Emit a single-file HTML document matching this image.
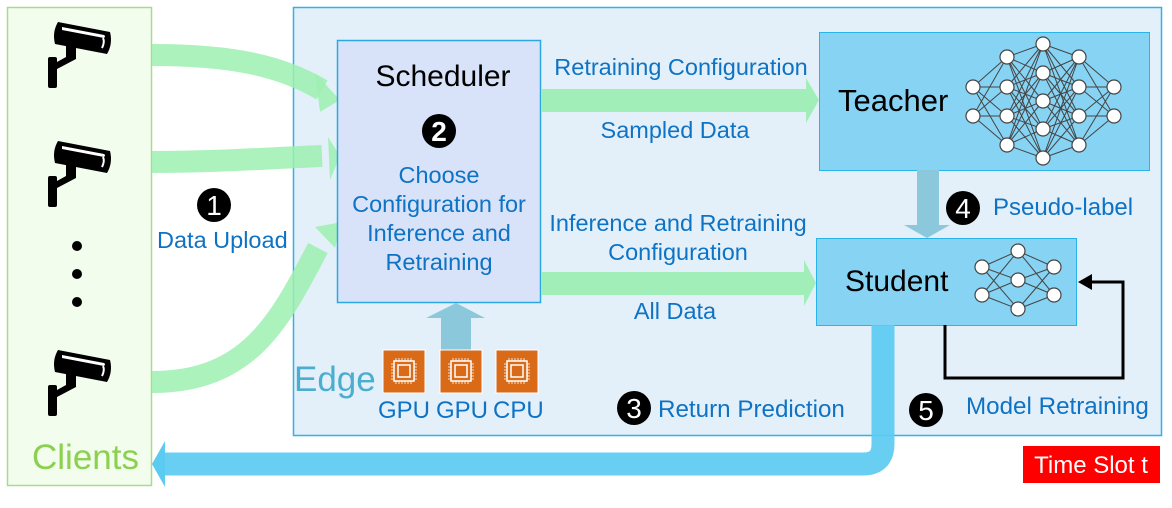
<!DOCTYPE html>
<html><head><meta charset="utf-8"><style>
body{margin:0;width:1172px;height:508px;background:#fff;overflow:hidden}
svg{display:block}
text{font-family:"Liberation Sans",Arial,sans-serif}
</style></head><body>
<svg width="1172" height="508" viewBox="0 0 1172 508" xmlns="http://www.w3.org/2000/svg">
<defs>
<g id="cam">
<path d="M58,0 L110,10 Q113,22 107,32 L55,22 Q52,10 58,0 Z" fill="#000"/>
<path d="M62,5 L104,13 Q106,14 104,16 L62,8 Z" fill="#fff"/>
<path d="M103,16 Q105,20 102,26" stroke="#fff" stroke-width="2" fill="none"/>
<path d="M66,22 L76,24 L76,37 L57,47 L57,40 L66,35 Z" fill="#000"/>
<rect x="48" y="35" width="9" height="31" rx="2" fill="#000"/>
</g>
<g id="chip">
<rect x="0" y="0" width="42" height="43" fill="#d86a18" stroke="#fff" stroke-width="1"/>
<rect x="11" y="11" width="20" height="20" fill="none" stroke="#fff" stroke-width="1.5"/>
<rect x="15" y="15" width="12" height="12" fill="none" stroke="#fff" stroke-width="1.5"/>
<path d="M13,11v-3M16,11v-3M19,11v-3M22,11v-3M25,11v-3M28,11v-3M13,31v3M16,31v3M19,31v3M22,31v3M25,31v3M28,31v3M11,14h-3M11,17h-3M11,20h-3M11,23h-3M11,26h-3M11,29h-3M31,14h3M31,17h3M31,20h3M31,23h3M31,26h3M31,29h3" stroke="#fff" stroke-width="0.8"/>
</g>
</defs>
<rect x="7.5" y="7.5" width="144" height="478" fill="#f2fdee" stroke="#a8dd88" stroke-width="1.5"/>
<rect x="293.5" y="7.5" width="868" height="428" fill="#e4f0f9" stroke="#2ab4ec" stroke-width="1.5"/>
<g fill="none" stroke="#9ef0b0" stroke-opacity="0.85" stroke-width="22">
<path d="M152,55 C230,55 280,65 322,90"/>
<path d="M152,162 C220,162 270,158 322,156"/>
<path d="M152,382 C250,382 280,320 318,248"/>
</g>
<g fill="#9ef0b0" fill-opacity="0.85">
<polygon points="315,73 340,100 320,112"/>
<polygon points="328,137 340,156 330,180"/>
<polygon points="315,227 342,222 335,248"/>
</g>
<rect x="337.5" y="40.5" width="203" height="262" fill="#d8e2f8" stroke="#2aa8e4" stroke-width="1.5"/>
<text x="443" y="86" font-size="30" text-anchor="middle" fill="#000">Scheduler</text>
<circle cx="439" cy="131" r="17" fill="#000"/>
<text x="439" y="141" font-size="28" font-weight="bold" text-anchor="middle" fill="#fff">2</text>
<g font-size="23.5" fill="#0e73c4" text-anchor="middle">
<text x="439" y="183">Choose</text>
<text x="439" y="212">Configuration for</text>
<text x="439" y="241">Inference and</text>
<text x="439" y="270">Retraining</text>
</g>
<rect x="541" y="89" width="266" height="23" fill="#a2eeb8"/>
<polygon points="806,78 819,100 806,123" fill="#a2eeb8"/>
<rect x="541" y="272" width="263" height="23" fill="#a2eeb8"/>
<polygon points="804,260 816,283 804,306" fill="#a2eeb8"/>
<g font-size="23.5" fill="#0e73c4" text-anchor="middle">
<text x="681" y="75">Retraining Configuration</text>
<text x="675" y="138">Sampled Data</text>
<text x="678" y="231">Inference and Retraining</text>
<text x="678" y="260">Configuration</text>
<text x="675" y="319">All Data</text>
</g>
<rect x="819.5" y="32.5" width="330" height="138" fill="#87d3f3" stroke="#2ab4ec" stroke-width="1"/>
<text x="838" y="111" font-size="31" fill="#000">Teacher</text>
<rect x="917" y="170" width="22" height="56" fill="#8cc8dc"/>
<polygon points="904,225 950,225 927,238" fill="#8cc8dc"/>
<circle cx="963" cy="208" r="17" fill="#000"/>
<text x="963" y="218" font-size="28" text-anchor="middle" fill="#fff">4</text>
<text x="993" y="215" font-size="24" fill="#0e73c4">Pseudo-label</text>
<rect x="816.5" y="238.5" width="260" height="87" fill="#87d3f3" stroke="#2ab4ec" stroke-width="1"/>
<text x="845" y="291" font-size="30" fill="#000">Student</text>
<path d="M945,325 V378 H1123 V282 H1092" fill="none" stroke="#000" stroke-width="3"/>
<polygon points="1078,282 1092,274 1092,290" fill="#000"/>
<path d="M883,325 V444 Q883,464 863,464 H160" fill="none" stroke="#5bcbf2" stroke-opacity="0.92" stroke-width="23"/>
<polygon points="152,464 165,441 165,487" fill="#5bcbf2"/>
<rect x="441" y="318" width="30" height="32" fill="#8cc8dc"/>
<polygon points="426,318 485,318 456,303" fill="#8cc8dc"/>
<use href="#chip" x="383" y="350"/>
<use href="#chip" x="440" y="350"/>
<use href="#chip" x="496" y="350"/>
<text x="294" y="391" font-size="35" fill="#4aaed0">Edge</text>
<g font-size="24" fill="#0e73c4">
<text x="378" y="418">GPU</text><text x="436" y="418">GPU</text><text x="493" y="418">CPU</text>
</g>
<use href="#cam" x="0" y="22"/>
<use href="#cam" x="0" y="141"/>
<use href="#cam" x="0" y="350"/>
<circle cx="77" cy="246" r="5" fill="#000"/>
<circle cx="77" cy="274" r="5" fill="#000"/>
<circle cx="77" cy="302" r="5" fill="#000"/>
<text x="32" y="469" font-size="35" fill="#8cd050">Clients</text>
<circle cx="214" cy="205" r="17" fill="#000"/>
<text x="214" y="215" font-size="28" text-anchor="middle" fill="#fff">1</text>
<text x="157" y="248" font-size="23.5" fill="#0e73c4">Data Upload</text>
<circle cx="634" cy="408" r="17" fill="#000"/>
<text x="634" y="418" font-size="28" text-anchor="middle" fill="#fff">3</text>
<text x="658" y="417" font-size="24.2" fill="#0e73c4">Return Prediction</text>
<circle cx="926" cy="410" r="17" fill="#000"/>
<text x="926" y="420" font-size="28" text-anchor="middle" fill="#fff">5</text>
<text x="966" y="414" font-size="24.2" fill="#0e73c4">Model Retraining</text>
<rect x="1023" y="446" width="137" height="37" fill="#ff0000"/>
<text x="1091" y="473" font-size="24" text-anchor="middle" fill="#fff">Time Slot t</text>
<g stroke="#444" stroke-width="1">
<path d="M973,87L1007,57M973,87L1007,87M973,87L1007,116M973,87L1007,145M973,116L1007,57M973,116L1007,87M973,116L1007,116M973,116L1007,145
M1007,57L1043,44M1007,57L1043,73M1007,57L1043,101M1007,57L1043,129M1007,57L1043,158
M1007,87L1043,44M1007,87L1043,73M1007,87L1043,101M1007,87L1043,129M1007,87L1043,158
M1007,116L1043,44M1007,116L1043,73M1007,116L1043,101M1007,116L1043,129M1007,116L1043,158
M1007,145L1043,44M1007,145L1043,73M1007,145L1043,101M1007,145L1043,129M1007,145L1043,158
M1079,57L1043,44M1079,57L1043,73M1079,57L1043,101M1079,57L1043,129M1079,57L1043,158
M1079,87L1043,44M1079,87L1043,73M1079,87L1043,101M1079,87L1043,129M1079,87L1043,158
M1079,116L1043,44M1079,116L1043,73M1079,116L1043,101M1079,116L1043,129M1079,116L1043,158
M1079,145L1043,44M1079,145L1043,73M1079,145L1043,101M1079,145L1043,129M1079,145L1043,158
M1114,87L1079,57M1114,87L1079,87M1114,87L1079,116M1114,87L1079,145M1114,116L1079,57M1114,116L1079,87M1114,116L1079,116M1114,116L1079,145"/>
<path d="M982,267L1018,251M982,267L1018,280M982,267L1018,309M982,295L1018,251M982,295L1018,280M982,295L1018,309
M1054,267L1018,251M1054,267L1018,280M1054,267L1018,309M1054,295L1018,251M1054,295L1018,280M1054,295L1018,309"/>
</g>
<g fill="#fff" stroke="#444" stroke-width="1.2">
<circle cx="973" cy="87" r="7"/><circle cx="973" cy="116" r="7"/>
<circle cx="1007" cy="57" r="7"/><circle cx="1007" cy="87" r="7"/><circle cx="1007" cy="116" r="7"/><circle cx="1007" cy="145" r="7"/>
<circle cx="1043" cy="44" r="7"/><circle cx="1043" cy="73" r="7"/><circle cx="1043" cy="101" r="7"/><circle cx="1043" cy="129" r="7"/><circle cx="1043" cy="158" r="7"/>
<circle cx="1079" cy="57" r="7"/><circle cx="1079" cy="87" r="7"/><circle cx="1079" cy="116" r="7"/><circle cx="1079" cy="145" r="7"/>
<circle cx="1114" cy="87" r="7"/><circle cx="1114" cy="116" r="7"/>
<circle cx="982" cy="267" r="7"/><circle cx="982" cy="295" r="7"/>
<circle cx="1018" cy="251" r="7"/><circle cx="1018" cy="280" r="7"/><circle cx="1018" cy="309" r="7"/>
<circle cx="1054" cy="267" r="7"/><circle cx="1054" cy="295" r="7"/>
</g>
</svg>
</body></html>
